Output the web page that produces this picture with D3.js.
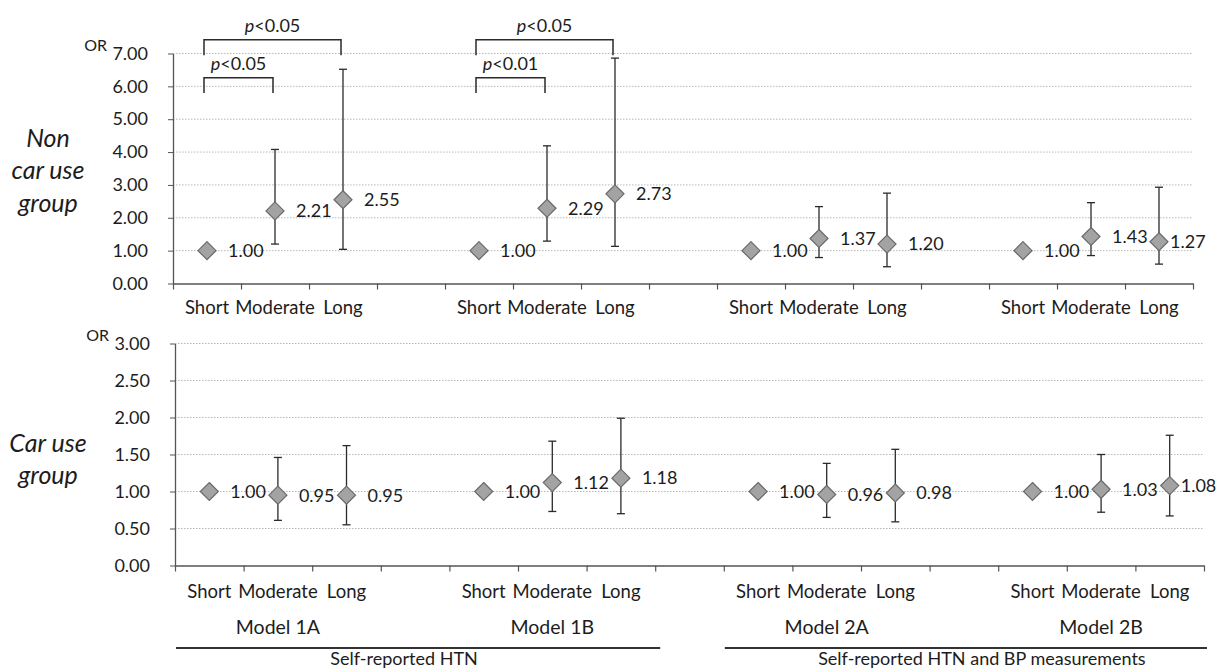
<!DOCTYPE html>
<html><head><meta charset="utf-8">
<script src="https://cdn.jsdelivr.net/npm/d3@7"></script>
<style>
body{margin:0;background:#fff}
svg{display:block}
text{font-family:Lato,"Open Sans",sans-serif;fill:#1c1c1c}
</style>
</head><body>
<svg id="chart" width="1218" height="672"></svg>
<script>
// ---------- data ----------
const categories = ["Short", "Moderate", "Long"];
const models = ["Model 1A", "Model 1B", "Model 2A", "Model 2B"];
const groups = ["Self-reported HTN", "Self-reported HTN and BP measurements"];
const groupModels = [[0, 1], [2, 3]];
const rowLabelsTop = ["Non", "car use", "group"];
const rowLabelsBottom = ["Car use", "group"];
const nonCarTicks = [0, 1, 2, 3, 4, 5, 6, 7];
const carTicks = [0, 0.5, 1, 1.5, 2, 2.5, 3];

// Non car use group: OR and 95% CI per model (Short, Moderate, Long)
const nonCarOR    = [[1.00, 2.21, 2.55], [1.00, 2.29, 2.73], [1.00, 1.37, 1.20], [1.00, 1.43, 1.27]];
const nonCarLower = [[null, 1.20, 1.04], [null, 1.29, 1.13], [null, 0.79, 0.51], [null, 0.85, 0.59]];
const nonCarUpper = [[null, 4.08, 6.52], [null, 4.19, 6.86], [null, 2.34, 2.75], [null, 2.46, 2.93]];

// Car use group
const carOR    = [[1.00, 0.95, 0.95], [1.00, 1.12, 1.18], [1.00, 0.96, 0.98], [1.00, 1.03, 1.08]];
const carLower = [[null, 0.61, 0.55], [null, 0.73, 0.70], [null, 0.65, 0.59], [null, 0.72, 0.67]];
const carUpper = [[null, 1.46, 1.62], [null, 1.68, 1.99], [null, 1.38, 1.57], [null, 1.50, 1.76]];

// significance brackets (top panel)
const brackets = [
  {model: 0, from: 0, to: 1, p: "0.05"},
  {model: 0, from: 0, to: 2, p: "0.05"},
  {model: 1, from: 0, to: 1, p: "0.01"},
  {model: 1, from: 0, to: 2, p: "0.05"}
];

// ---------- drawing ----------
const svg = d3.select("#chart");
const nSlots = models.length * 4 - 1; // 15 slots incl. gaps
const slotOf = (m, c) => m * 4 + c;

const panels = [
  {rows: rowLabelsTop, or: nonCarOR, lo: nonCarLower, hi: nonCarUpper, ticks: nonCarTicks,
   x0: 173, x1: 1193, yb: 283.5, yt: 53.5, catY: 308, rowY0: 138, rowStep: 32.5},
  {rows: rowLabelsBottom, or: carOR, lo: carLower, hi: carUpper, ticks: carTicks,
   x0: 175, x1: 1204, yb: 565.5, yt: 343.5, catY: 592, rowY0: 443, rowStep: 32.5}
];

const fmt = d3.format(".2f");
let bottomX = null;

panels.forEach((P, pi) => {
  const maxV = d3.max(P.ticks);
  const y = d3.scaleLinear().domain([0, maxV]).range([P.yb, P.yt]);
  const xb = d3.scaleLinear().domain([0, nSlots]).range([P.x0, P.x1]);
  const x = d3.scaleBand().domain(d3.range(nSlots)).range([P.x0, P.x1]).padding(0);
  const g = svg.append("g");
  if (pi === 1) bottomX = {xb, x};

  // gridlines
  g.append("g").selectAll("line").data(P.ticks.filter(t => t > 0)).join("line")
    .attr("x1", P.x0).attr("x2", P.x1)
    .attr("y1", d => y(d)).attr("y2", d => y(d))
    .attr("stroke", "#b8b8b8").attr("stroke-width", 1).attr("stroke-dasharray", "1.5,1.5");

  // y axis
  const ya = g.append("g").attr("transform", `translate(${P.x0},0)`)
    .call(d3.axisLeft(y).tickValues(P.ticks).tickFormat(fmt).tickSize(5).tickSizeOuter(0));
  ya.select(".domain").attr("stroke", "#555").attr("stroke-width", 1.3);
  ya.selectAll(".tick line").attr("stroke", "#555");
  ya.selectAll(".tick text").attr("x", -25).style("font-size", "18px").style("font-family", "Lato").attr("fill", "#1c1c1c");

  // x axis
  const xa = g.append("g").attr("transform", `translate(0,${P.yb})`)
    .call(d3.axisBottom(xb).tickValues(d3.range(nSlots + 1)).tickFormat("").tickSize(6).tickSizeOuter(0));
  xa.select(".domain").attr("stroke", "#555").attr("stroke-width", 1.6);
  xa.selectAll(".tick line").attr("stroke", "#555").attr("stroke-width", 1.2);

  // category labels
  models.forEach((m, mi) => {
    g.append("g").selectAll("text").data(categories).join("text")
      .attr("x", (d, ci) => x(slotOf(mi, ci)) + x.bandwidth() / 2)
      .attr("y", P.catY).attr("dy", "0.35em")
      .attr("text-anchor", "middle").style("font-size", "18.5px")
      .text(d => d);
  });

  // OR label
  g.append("text").attr("x", P.x0 - 66).attr("y", y(maxV) - 8)
    .attr("text-anchor", "end").attr("dy", "0.35em").style("font-size", "16px").text("OR");

  // row labels
  g.append("g").selectAll("text").data(P.rows).join("text")
    .attr("x", 48).attr("y", (d, i) => P.rowY0 + i * P.rowStep).attr("dy", "0.35em")
    .attr("text-anchor", "middle").style("font-size", "25px").style("font-style", "italic")
    .text(d => d);

  // points
  const pts = [];
  models.forEach((m, mi) => categories.forEach((c, ci) => {
    pts.push({mi, ci, v: P.or[mi][ci], lo: P.lo[mi][ci], hi: P.hi[mi][ci]});
  }));
  const cx = d => x(slotOf(d.mi, d.ci)) + x.bandwidth() / 2;

  const eb = g.append("g").selectAll("g").data(pts.filter(d => d.lo !== null)).join("g")
    .attr("stroke", "#2a2a2a").attr("stroke-width", 1.3);
  eb.append("line").attr("x1", cx).attr("x2", cx).attr("y1", d => y(d.lo)).attr("y2", d => y(d.hi));
  eb.append("line").attr("x1", d => cx(d) - 4).attr("x2", d => cx(d) + 4).attr("y1", d => y(d.lo)).attr("y2", d => y(d.lo));
  eb.append("line").attr("x1", d => cx(d) - 4).attr("x2", d => cx(d) + 4).attr("y1", d => y(d.hi)).attr("y2", d => y(d.hi));

  const r = 9;
  g.append("g").selectAll("path").data(pts).join("path")
    .attr("d", d => { const X = cx(d), Y = y(d.v); return `M${X},${Y - r}L${X + r},${Y}L${X},${Y + r}L${X - r},${Y}Z`; })
    .attr("fill", "#a3a3a3").attr("stroke", "#6a6a6a").attr("stroke-width", 1.2);

  const lastM = models.length - 1, lastC = categories.length - 1;
  g.append("g").selectAll("text").data(pts).join("text")
    .attr("x", d => cx(d) + ((d.mi === lastM && d.ci === lastC) ? 11 : 21))
    .attr("y", d => y(d.v)).attr("dy", "0.35em")
    .style("font-size", "18px").text(d => fmt(d.v));

  // brackets on the top panel
  if (pi === 0) {
    const bg = g.append("g");
    brackets.forEach(b => {
      const outer = b.to === 2;
      const topV = outer ? 7.42 : 6.26;
      const legV = outer ? 6.95 : 5.80;
      const xl = x(slotOf(b.model, b.from)) + x.bandwidth() / 2 - 3;
      const xr = x(slotOf(b.model, b.to)) + x.bandwidth() / 2 - 2;
      bg.append("path")
        .attr("d", `M${xl},${y(legV)}V${y(topV)}H${xr}V${y(legV)}`)
        .attr("fill", "none").attr("stroke", "#2a2a2a").attr("stroke-width", 1.5);
      const t = bg.append("text").attr("x", (xl + xr) / 2).attr("y", y(topV) - 14).attr("dy", "0.35em")
        .attr("text-anchor", "middle").style("font-size", "18px");
      t.append("tspan").style("font-style", "italic").text("p");
      t.append("tspan").text("<" + b.p);
    });
  }
});

// model labels, group underlines, group labels
const {xb, x} = bottomX;
svg.append("g").selectAll("text").data(models).join("text")
  .attr("x", (d, mi) => x(slotOf(mi, 1)) + x.bandwidth() / 2)
  .attr("y", 627).attr("dy", "0.35em").attr("text-anchor", "middle")
  .style("font-size", "19.5px").text(d => d);

groups.forEach((gname, gi) => {
  const ms = groupModels[gi];
  const xs = xb(slotOf(ms[0], 0)) + 1;
  const xe = gi === 0 ? xb(slotOf(ms[1], 3)) + 5 : xb(nSlots) + 3;
  svg.append("line").attr("x1", xs).attr("x2", xe).attr("y1", 648).attr("y2", 648)
    .attr("stroke", "#333").attr("stroke-width", 2);
  svg.append("text").attr("x", (xs + xe) / 2 + (gi === 0 ? -14 : 16)).attr("y", 659).attr("dy", "0.35em")
    .attr("text-anchor", "middle").style("font-size", "18px").text(gname);
});
</script>
</body></html>
